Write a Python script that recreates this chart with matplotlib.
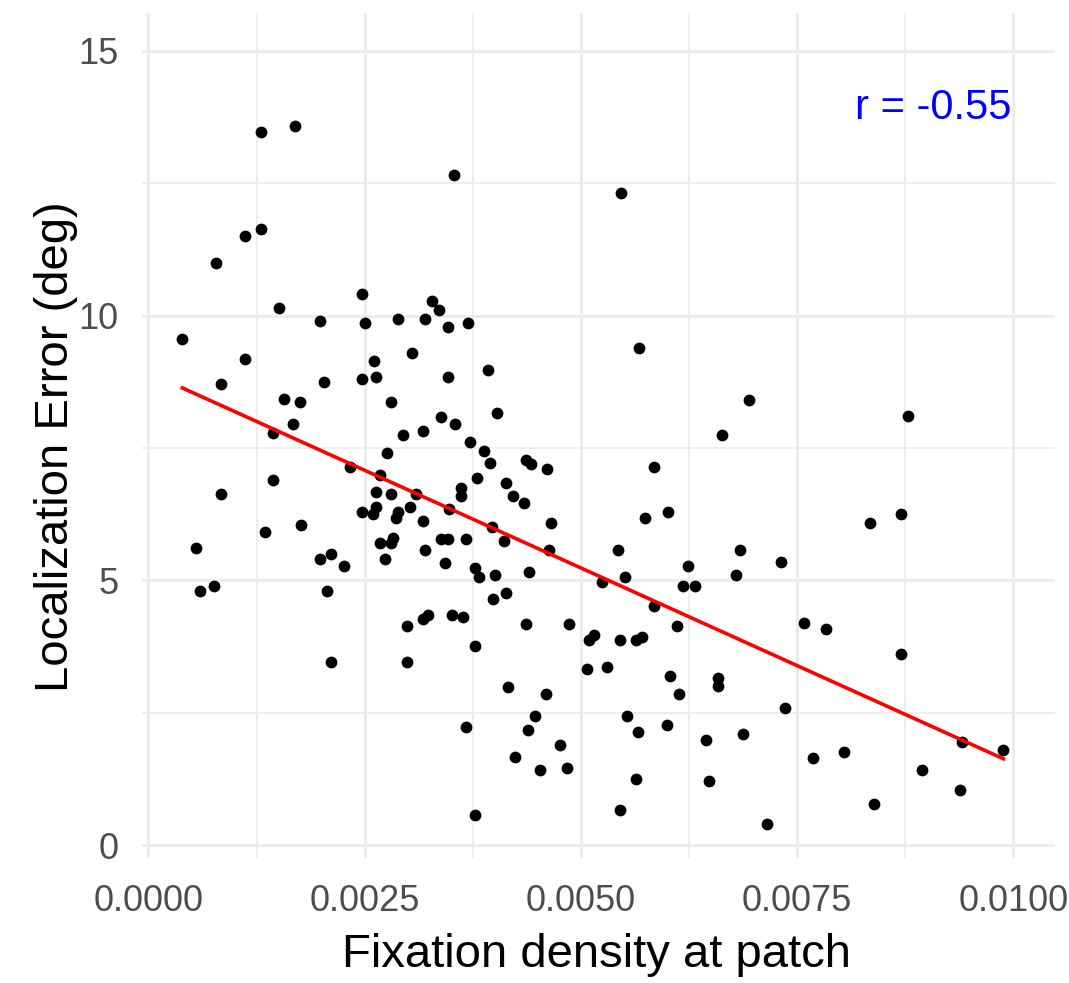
import numpy as np
import matplotlib
matplotlib.use("Agg")
import matplotlib.pyplot as plt
from matplotlib.ticker import FixedLocator, FuncFormatter

# ---- data ----
fixation_density = [
    0.001304, 0.001690, 0.001304, 0.001119, 0.000784, 0.002472, 0.001512, 0.001979, 0.002499,
    0.003532, 0.005459, 0.003274, 0.003355, 0.002888, 0.003197, 0.003459, 0.003690,
    0.000391, 0.001119, 0.000835, 0.002032, 0.002468, 0.002603, 0.002630, 0.001563, 0.001748,
    0.001667, 0.001436, 0.002333, 0.002676, 0.001436, 0.000835, 0.002627, 0.002468, 0.002627,
    0.002599, 0.001766, 0.001350, 0.000553, 0.002676, 0.001983, 0.002110, 0.002264,
    0.000599, 0.000757, 0.002060, 0.002106,
    0.003043, 0.003462, 0.003925, 0.005667, 0.002807, 0.004029, 0.003378, 0.003540, 0.003170,
    0.002939, 0.003717, 0.003879, 0.002761, 0.003951, 0.004361, 0.004422, 0.004603, 0.005844,
    0.003794, 0.004129, 0.002807, 0.003092, 0.003613, 0.003613, 0.004210, 0.004341, 0.003020,
    0.002888, 0.002861, 0.003477, 0.006002, 0.005740, 0.003170, 0.004650, 0.003975, 0.002830,
    0.002807, 0.003378, 0.003459, 0.003667, 0.004106, 0.003200, 0.004634, 0.005428, 0.002734,
    0.003431, 0.003771, 0.003824, 0.004002, 0.004395, 0.005509,
    0.005246, 0.003979, 0.004133, 0.005844, 0.002992, 0.003170, 0.003228, 0.003509, 0.003639,
    0.004364, 0.004858, 0.006106, 0.003771, 0.005092, 0.005147, 0.005454, 0.005636, 0.005702,
    0.002992, 0.005066, 0.005297, 0.006029, 0.006136, 0.004160, 0.004599, 0.004468, 0.005532,
    0.005998, 0.003667, 0.004391, 0.005662, 0.004754, 0.004234, 0.004523, 0.004835, 0.005636,
    0.003771, 0.005454,
    0.006943, 0.006628, 0.008782, 0.008704, 0.008338, 0.006838, 0.006238, 0.007313, 0.006787,
    0.006184, 0.006316, 0.007575, 0.007835, 0.008699, 0.006580, 0.006580, 0.007364, 0.006444,
    0.006869, 0.006475, 0.007154, 0.007683, 0.008045, 0.008388, 0.008941, 0.009385, 0.009408,
    0.009883,
]
localization_error = [
    13.46, 13.58, 11.63, 11.51, 11.00, 10.41, 10.15, 9.90, 9.85,
    12.65, 12.31, 10.28, 10.11, 9.94, 9.94, 9.78, 9.86,
    9.56, 9.18, 8.71, 8.75, 8.80, 9.14, 8.84, 8.42, 8.37,
    7.95, 7.78, 7.14, 6.98, 6.89, 6.63, 6.67, 6.29, 6.39,
    6.25, 6.04, 5.92, 5.61, 5.71, 5.40, 5.49, 5.27,
    4.80, 4.89, 4.80, 3.46,
    9.30, 8.84, 8.97, 9.39, 8.37, 8.16, 8.08, 7.95, 7.82,
    7.74, 7.61, 7.45, 7.40, 7.22, 7.28, 7.19, 7.10, 7.14,
    6.94, 6.84, 6.63, 6.63, 6.74, 6.60, 6.60, 6.46, 6.38,
    6.29, 6.17, 6.34, 6.29, 6.17, 6.12, 6.08, 6.00, 5.79,
    5.70, 5.78, 5.78, 5.78, 5.75, 5.58, 5.58, 5.58, 5.40,
    5.32, 5.24, 5.07, 5.10, 5.15, 5.07,
    4.97, 4.64, 4.76, 4.51, 4.13, 4.26, 4.35, 4.35, 4.30,
    4.18, 4.18, 4.13, 3.75, 3.87, 3.96, 3.88, 3.88, 3.92,
    3.46, 3.32, 3.37, 3.20, 2.86, 2.98, 2.86, 2.44, 2.44,
    2.27, 2.22, 2.18, 2.13, 1.88, 1.67, 1.42, 1.46, 1.24,
    0.57, 0.66,
    8.40, 7.75, 8.10, 6.26, 6.09, 5.57, 5.27, 5.35, 5.10,
    4.89, 4.89, 4.20, 4.08, 3.61, 3.15, 3.00, 2.58, 1.98,
    2.10, 1.21, 0.40, 1.64, 1.76, 0.78, 1.42, 1.03, 1.94,
    1.80,
]
x_major_ticks = [0.0, 0.0025, 0.0050, 0.0075, 0.0100]
x_minor_ticks = [0.00125, 0.00375, 0.00625, 0.00875]
y_major_ticks = [0, 5, 10, 15]
y_minor_ticks = [2.5, 7.5, 12.5]
r_label = "r = -0.55"
x_title = "Fixation density at patch"
y_title = "Localization Error (deg)"

plt.rcParams['font.family'] = ['Liberation Sans', 'DejaVu Sans']

x = np.array(fixation_density)
y = np.array(localization_error)

fig = plt.figure(figsize=(10.69, 9.83), dpi=100)
ax = fig.add_axes([0.13283, 0.12716, 0.85407, 0.85992])
ax.set_facecolor('white')
for s in ax.spines.values():
    s.set_visible(False)

ax.set_xlim(-0.0000751, 0.010480)
ax.set_ylim(-0.2455, 15.72)

ax.xaxis.set_major_locator(FixedLocator(x_major_ticks))
ax.xaxis.set_minor_locator(FixedLocator(x_minor_ticks))
ax.yaxis.set_major_locator(FixedLocator(y_major_ticks))
ax.yaxis.set_minor_locator(FixedLocator(y_minor_ticks))
ax.xaxis.set_major_formatter(FuncFormatter(lambda v, p: f"{v:.4f}"))
ax.yaxis.set_major_formatter(FuncFormatter(lambda v, p: f"{v:g}"))

ax.grid(which='major', color='#EBEBEB', linewidth=2.0)
ax.grid(which='minor', color='#EDEDED', linewidth=1.3)
ax.set_axisbelow(True)

ax.tick_params(axis='both', which='both', length=0, labelsize=26, labelcolor='#4D4D4D')
ax.tick_params(axis='x', which='major', pad=19)
ax.tick_params(axis='y', which='major', pad=17)

ax.scatter(x, y, s=72, color='black', linewidths=0, zorder=3)

coef = np.polyfit(x, y, 1)
xs = np.array([x.min(), x.max()])
ax.plot(xs, np.polyval(coef, xs), color='red', linewidth=2.6, zorder=4)

ax.text(0.009074, 13.71, r_label, color='blue', fontsize=30, ha='center', va='baseline')

fig.text(596 / 1069, 1 - 967 / 983, x_title, fontsize=34, color='black', ha='center', va='baseline')
fig.text(68 / 1069, 1 - 447 / 983, y_title, fontsize=34, color='black', rotation=90,
         rotation_mode='anchor', ha='center', va='baseline')

fig.savefig('out.png', dpi=100, facecolor='white')
